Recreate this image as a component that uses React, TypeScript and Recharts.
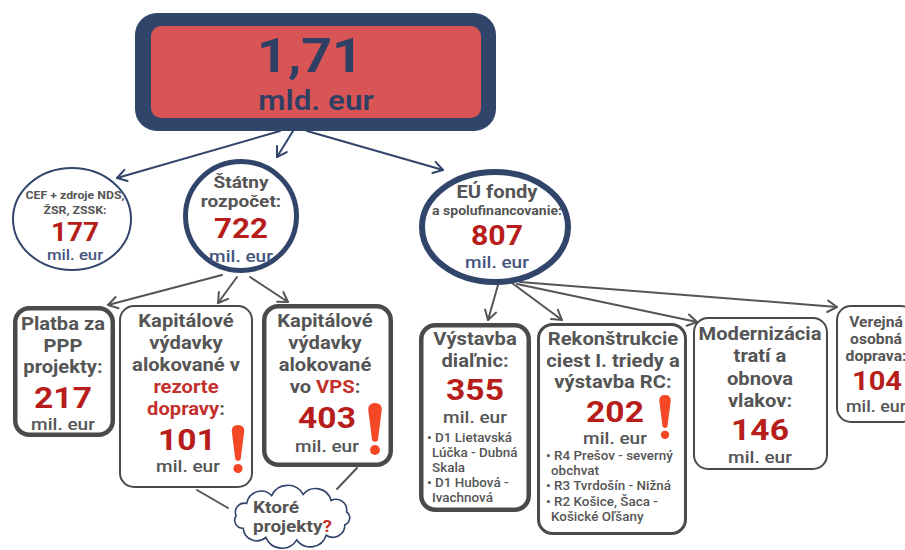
import React from "react"
import { ScatterChart, Scatter, XAxis, YAxis, ReferenceLine } from "recharts"

// --- values ---
const totalAmount = "1,71"
const totalUnit = "mld. eur"
const unit = "mil. eur"

const sourceNames = [
  ["CEF + zdroje NDS,", "ŽSR, ZSSK:"],
  ["Štátny", "rozpočet:"],
  ["EÚ fondy", "a spolufinancovanie:"],
]
const sourceValues = [177, 722, 807]

const stateNames = [
  ["Platba za", "PPP", "projekty:"],
  ["Kapitálové", "výdavky", "alokované v", "*rezorte*", "*dopravy*:"],
  ["Kapitálové", "výdavky", "alokované", "vo *VPS*:"],
]
const stateValues = [217, 101, 403]

const euNames = [
  ["Výstavba", "diaľnic:"],
  ["Rekonštrukcie", "ciest I. triedy a", "výstavba RC:"],
  ["Modernizácia", "tratí a", "obnova", "vlakov:"],
  ["Verejná", "osobná", "doprava:"],
]
const euValues = [355, 202, 146, 104]

const highwayProjects = [["• D1 Lietavská", "Lúčka - Dubná", "Skala"], ["• D1 Hubová -", "Ivachnová"]]
const roadProjects = [["• R4 Prešov - severný", "obchvat"], ["• R3 Tvrdošín - Nižná"], ["• R2 Košice, Šaca -", "Košické Oľšany"]]
const questionLines = ["Ktoré", "projekty*?*"]

// --- styles ---
const NAVY = "#31446a"
const NAVY_TXT = "#2f4064"
const UNIT_NAVY = "#45557e"
const RED_FILL = "#d95454"
const GRAY = "#555555"
const BOX = "#4a4a4a"
const RED = "#b61d1b"
const HILITE = "#c4302b"
const BANG = "#f44725"
const FONT = "Roboto, 'DejaVu Sans', sans-serif"
const SX = 1.12

type TextLine = { t: string; x: number; y: number; size: number; fill?: string; anchor?: "start" | "middle"; weight?: number }
type Bang = { x: number; top: number; h: number }
type NodeSpec = {
  kind: "total" | "ellipse" | "box" | "cloud"
  x: number
  y: number
  w: number
  h: number
  sw: number
  stroke: string
  lines: TextLine[]
  bangs?: Bang[]
}

function stack(lines: string[], x: number, y0: number, step: number, size: number, fill = GRAY, anchor: "start" | "middle" = "middle", weight = 700): TextLine[] {
  return lines.map((t, i) => ({ t, x, y: y0 + i * step, size, fill, anchor, weight }))
}

function bullets(groups: string[][], x: number, y0: number, step: number): TextLine[] {
  const out: TextLine[] = []
  let y = y0
  groups.forEach((g) => {
    g.forEach((t, i) => {
      out.push({ t, x: i === 0 ? x : x + 5, y, size: 12, fill: GRAY, anchor: "start", weight: 500 })
      y += step
    })
  })
  return out
}

const U = 500 // weight of the "mil. eur" lines

const nodes: NodeSpec[] = [
  {
    kind: "total", x: 315.5, y: 72, w: 361, h: 118, sw: 0, stroke: NAVY,
    lines: [
      { t: totalAmount, x: 310, y: 72, size: 48, fill: NAVY_TXT },
      { t: totalUnit, x: 316, y: 110, size: 28, fill: NAVY_TXT, weight: 600 },
    ],
  },
  {
    kind: "ellipse", x: 72, y: 219, w: 120, h: 104, sw: 2, stroke: NAVY,
    lines: [
      ...stack(sourceNames[0], 75, 199, 15, 11),
      { t: String(sourceValues[0]), x: 75, y: 241, size: 25, fill: RED },
      { t: unit, x: 75, y: 260, size: 15, fill: UNIT_NAVY, weight: U },
    ],
  },
  {
    kind: "ellipse", x: 241, y: 216, w: 116, h: 114, sw: 5, stroke: NAVY,
    lines: [
      ...stack(sourceNames[1], 241, 188, 19, 17),
      { t: String(sourceValues[1]), x: 241, y: 238, size: 28, fill: RED },
      { t: unit, x: 241, y: 262, size: 17, fill: UNIT_NAVY, weight: U },
    ],
  },
  {
    kind: "ellipse", x: 495, y: 227, w: 152, h: 116, sw: 6, stroke: NAVY,
    lines: [
      { t: sourceNames[2][0], x: 497, y: 198, size: 18, fill: GRAY },
      { t: sourceNames[2][1], x: 497, y: 215, size: 12.5, fill: GRAY },
      { t: String(sourceValues[2]), x: 497, y: 245, size: 27, fill: RED },
      { t: unit, x: 497, y: 268, size: 17, fill: UNIT_NAVY, weight: U },
    ],
  },
  {
    kind: "box", x: 64, y: 371.5, w: 102, h: 131, sw: 4.5, stroke: BOX,
    lines: [
      ...stack(stateNames[0], 63, 330, 21.5, 18),
      { t: String(stateValues[0]), x: 63, y: 408, size: 30, fill: RED },
      { t: unit, x: 63, y: 430, size: 17, weight: U },
    ],
  },
  {
    kind: "box", x: 186, y: 396.5, w: 134, h: 183, sw: 2, stroke: BOX,
    lines: [
      ...stack(stateNames[1], 186, 327, 22, 18),
      { t: String(stateValues[1]), x: 187, y: 450, size: 30, fill: RED },
      { t: unit, x: 188, y: 472, size: 17, weight: U },
    ],
    bangs: [{ x: 238, top: 425, h: 48 }],
  },
  {
    kind: "box", x: 327.5, y: 385.5, w: 131, h: 163, sw: 4.5, stroke: BOX,
    lines: [
      ...stack(stateNames[2], 325, 327, 22, 18),
      { t: String(stateValues[2]), x: 327, y: 428, size: 30, fill: RED },
      { t: unit, x: 327, y: 452, size: 17, weight: U },
    ],
    bangs: [{ x: 375, top: 403, h: 52 }],
  },
  {
    kind: "cloud", x: 292, y: 517, w: 130, h: 62, sw: 1.6, stroke: NAVY,
    lines: stack(questionLines, 253, 513, 19, 17, GRAY, "start"),
  },
  {
    kind: "box", x: 475, y: 417.5, w: 112, h: 189, sw: 4.5, stroke: BOX,
    lines: [
      ...stack(euNames[0], 475, 345, 22, 18),
      { t: String(euValues[0]), x: 475, y: 400, size: 30, fill: RED },
      { t: unit, x: 475, y: 423, size: 17, weight: U },
      ...bullets(highwayProjects, 427, 442, 15),
    ],
  },
  {
    kind: "box", x: 612, y: 429, w: 150, h: 212, sw: 3, stroke: BOX,
    lines: [
      ...stack(euNames[1], 613, 345, 21.5, 18),
      { t: String(euValues[1]), x: 615, y: 422, size: 30, fill: RED },
      { t: unit, x: 615, y: 444, size: 17, weight: U },
      ...bullets(roadProjects, 546, 460, 15.2),
    ],
    bangs: [{ x: 665, top: 395, h: 44 }],
  },
  {
    kind: "box", x: 760.5, y: 393.5, w: 135, h: 153, sw: 2, stroke: BOX,
    lines: [
      ...stack(euNames[2], 760, 340, 22.3, 18),
      { t: String(euValues[2]), x: 760, y: 440, size: 30, fill: RED },
      { t: unit, x: 760, y: 463, size: 17, weight: U },
    ],
  },
  {
    kind: "box", x: 876, y: 364, w: 80, h: 118, sw: 2, stroke: BOX,
    lines: [
      ...stack(euNames[3], 876, 327, 17, 14),
      { t: String(euValues[3]), x: 877, y: 390, size: 26, fill: RED },
      { t: unit, x: 876, y: 412, size: 16, weight: U },
    ],
  },
]

// arrows: from -> to
const navyArrows = [
  [280, 131, 117, 178],
  [293, 131, 277, 157],
  [307, 131, 443, 170],
]
const grayArrows = [
  [222, 275, 108, 305],
  [237, 277, 218, 303],
  [250, 277, 288, 302],
  [498, 285, 488, 320],
  [512, 283, 562, 320],
  [517, 284, 697, 322],
  [520, 282, 837, 307],
]
const cloudLinks = [
  [197, 490, 228, 508],
  [357, 468, 337, 489],
]

function Txt({ line, dx, dy }: { line: TextLine; dx: number; dy: number }) {
  const parts = line.t.split("*")
  return (
    <g transform={`translate(${line.x + dx},${line.y + dy}) scale(${SX},1)`}>
      <text
        x={0}
        y={0}
        textAnchor={line.anchor ?? "middle"}
        fontFamily={FONT}
        fontWeight={line.weight ?? 700}
        fontSize={line.size}
        fill={line.fill ?? GRAY}
      >
        {parts.map((p, i) => (
          <tspan key={i} fill={i % 2 === 1 ? HILITE : undefined}>
            {p}
          </tspan>
        ))}
      </text>
    </g>
  )
}

function BangMark({ x, top, h }: Bang) {
  const barH = h * 0.72
  const wt = h * 0.13
  const wb = h * 0.055
  const r = h * 0.095
  const d = `M${x - wt} ${top + wt} Q${x - wt} ${top} ${x} ${top} Q${x + wt} ${top} ${x + wt} ${top + wt} L${x + wb} ${top + barH} Q${x} ${top + barH + wb} ${x - wb} ${top + barH} Z`
  return (
    <g fill={BANG}>
      <path d={d} />
      <circle cx={x} cy={top + h - r} r={r} />
    </g>
  )
}

function cloudPath(cx: number, cy: number, w: number, h: number) {
  const n = 11
  const rx = w / 2 - 9
  const ry = h / 2 - 8
  const pts = Array.from({ length: n }, (_, i) => {
    const a = (i / n) * Math.PI * 2 - Math.PI / 2 + 0.2
    return [cx + rx * Math.cos(a), cy + ry * Math.sin(a)]
  })
  let d = `M${pts[0][0]} ${pts[0][1]}`
  for (let i = 1; i <= n; i++) {
    const p = pts[i % n]
    const q = pts[i - 1]
    const chord = Math.hypot(p[0] - q[0], p[1] - q[1])
    d += ` A${chord * 0.56} ${chord * 0.56} 0 0 1 ${p[0]} ${p[1]}`
  }
  return d + " Z"
}

function NodeShape(props: any) {
  const { cx, cy, payload } = props
  const n: NodeSpec = payload
  if (cx == null || cy == null || !n) return null
  const dx = cx - n.x
  const dy = cy - n.y
  const left = cx - n.w / 2
  const top = cy - n.h / 2
  let frame: React.ReactNode = null
  if (n.kind === "total") {
    frame = (
      <g>
        <rect x={left} y={top} width={n.w} height={n.h} rx={22} fill={NAVY} />
        <rect x={left + 16} y={top + 13} width={n.w - 31} height={n.h - 26} rx={10} fill={RED_FILL} />
      </g>
    )
  } else if (n.kind === "ellipse") {
    frame = (
      <ellipse cx={cx} cy={cy} rx={n.w / 2 - n.sw / 2} ry={n.h / 2 - n.sw / 2} fill="#fff" stroke={n.stroke} strokeWidth={n.sw} />
    )
  } else if (n.kind === "box") {
    frame = (
      <rect
        x={left + n.sw / 2}
        y={top + n.sw / 2}
        width={n.w - n.sw}
        height={n.h - n.sw}
        rx={14}
        fill="#fff"
        stroke={n.stroke}
        strokeWidth={n.sw}
      />
    )
  } else if (n.kind === "cloud") {
    frame = <path d={cloudPath(cx, cy, n.w, n.h)} fill="#fff" stroke={n.stroke} strokeWidth={n.sw} />
  }
  return (
    <g>
      {frame}
      {n.lines.map((l, i) => (
        <Txt key={i} line={l} dx={dx} dy={dy} />
      ))}
      {(n.bangs ?? []).map((b, i) => (
        <BangMark key={i} x={b.x + dx} top={b.top + dy} h={b.h} />
      ))}
    </g>
  )
}

function Arrow(props: any) {
  const { x1, y1, x2, y2, color, head } = props
  if ([x1, y1, x2, y2].some((v) => v == null || Number.isNaN(v))) return null
  const ang = Math.atan2(y2 - y1, x2 - x1)
  const len = 11
  const spread = 0.55
  const a1 = ang + Math.PI - spread
  const a2 = ang + Math.PI + spread
  return (
    <g stroke={color} strokeWidth={2} fill="none" strokeLinecap="round">
      <line x1={x1} y1={y1} x2={x2} y2={y2} />
      {head && (
        <polyline
          points={`${x2 + len * Math.cos(a1)},${y2 + len * Math.sin(a1)} ${x2},${y2} ${x2 + len * Math.cos(a2)},${y2 + len * Math.sin(a2)}`}
          strokeLinejoin="round"
        />
      )}
    </g>
  )
}

export default function App() {
  const edges = [
    ...navyArrows.map((s) => ({ s, color: NAVY, head: true })),
    ...grayArrows.map((s) => ({ s, color: GRAY, head: true })),
    ...cloudLinks.map((s) => ({ s, color: GRAY, head: false })),
  ]
  return (
    <div style={{ width: 905, height: 550, background: "#fff", overflow: "hidden" }}>
      <style>{"body{margin:0}"}</style>
      <ScatterChart width={905} height={550} margin={{ top: 0, right: 0, bottom: 0, left: 0 }}>
        <XAxis type="number" dataKey="x" domain={[0, 905]} allowDataOverflow hide />
        <YAxis type="number" dataKey="y" domain={[0, 550]} allowDataOverflow reversed hide />
        {edges.map((e, i) => (
          <ReferenceLine
            key={i}
            segment={[
              { x: e.s[0], y: e.s[1] },
              { x: e.s[2], y: e.s[3] },
            ]}
            ifOverflow="visible"
            shape={(p: any) => <Arrow {...p} color={e.color} head={e.head} />}
          />
        ))}
        <Scatter data={nodes} isAnimationActive={false} shape={(p: any) => <NodeShape {...p} />} />
      </ScatterChart>
    </div>
  )
}
